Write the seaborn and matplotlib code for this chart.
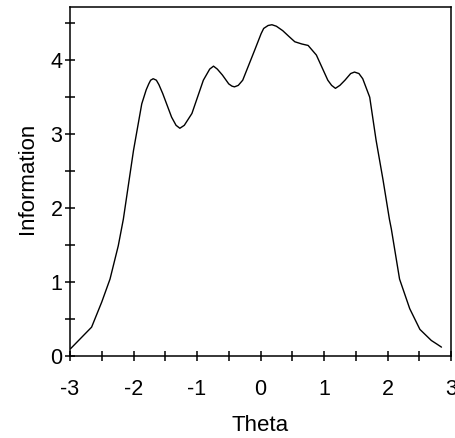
import matplotlib
matplotlib.use("Agg")
import matplotlib.pyplot as plt
import seaborn as sns
import pandas as pd
from matplotlib.ticker import MultipleLocator

theta = [-2.99, -2.66, -2.50, -2.37, -2.24, -2.16, -2.00, -1.87, -1.80, -1.76,
         -1.73, -1.69, -1.64, -1.60, -1.54, -1.40, -1.33, -1.27, -1.20, -1.08,
         -0.90, -0.80, -0.74, -0.68, -0.60, -0.50, -0.45, -0.41, -0.35, -0.28,
         -0.09, 0.01, 0.05, 0.12, 0.18, 0.25, 0.35, 0.45, 0.54, 0.65,
         0.75, 0.88, 1.06, 1.12, 1.18, 1.25, 1.33, 1.42, 1.48, 1.55,
         1.61, 1.72, 1.82, 1.93, 2.03, 2.06, 2.19, 2.35, 2.51, 2.69,
         2.78, 2.85]
information = [0.10, 0.39, 0.73, 1.04, 1.49, 1.85, 2.78, 3.41, 3.60, 3.68,
               3.73, 3.75, 3.73, 3.67, 3.55, 3.23, 3.12, 3.08, 3.12, 3.28,
               3.73, 3.88, 3.92, 3.88, 3.80, 3.68, 3.65, 3.64, 3.66, 3.73,
               4.14, 4.36, 4.43, 4.47, 4.48, 4.46, 4.40, 4.32, 4.25, 4.22,
               4.20, 4.07, 3.73, 3.66, 3.62, 3.66, 3.73, 3.82, 3.84, 3.82,
               3.75, 3.50, 2.92, 2.38, 1.85, 1.72, 1.04, 0.64, 0.36, 0.21,
               0.16, 0.12]
x_ticks = [-3, -2, -1, 0, 1, 2, 3]
y_ticks = [0, 1, 2, 3, 4]

df = pd.DataFrame({"Theta": theta, "Information": information})

sns.set_theme(style="ticks")
plt.rcParams['font.family'] = ['Liberation Sans', 'DejaVu Sans']

fig = plt.figure(figsize=(4.56, 4.38), dpi=100)
ax = fig.add_axes([70/456, (438-356)/438, (451-70)/456, (356-7)/438])

sns.lineplot(data=df, x="Theta", y="Information", ax=ax, color="black", lw=1.0)

ax.set_xlim(-3, 3)
ax.set_ylim(0, 4.72)
ax.set_xticks(x_ticks)
ax.set_yticks(y_ticks)
ax.set_xticklabels(["-3", "-2", "-1", "0", "1", "2", "3"])
ax.xaxis.set_minor_locator(MultipleLocator(0.5))
ax.yaxis.set_minor_locator(MultipleLocator(0.5))

for sp in ax.spines.values():
    sp.set_visible(True)
    sp.set_linewidth(1.1)
    sp.set_color("black")

ax.tick_params(axis="both", which="both", direction="inout", length=7.7, width=1.1, color="black")
ax.tick_params(axis="y", which="major", labelsize=15.5, pad=1.5, labelcolor="black")
ax.tick_params(axis="x", which="major", labelsize=15.5, pad=13, labelcolor="black")

ax.set_xlabel("Theta", fontsize=16, color="black")
ax.set_ylabel("Information", fontsize=16, color="black")
ax.xaxis.set_label_coords(0.5, -0.169)
ax.yaxis.set_label_coords(-0.085, 0.509)

fig.savefig("out.png", dpi=100)
